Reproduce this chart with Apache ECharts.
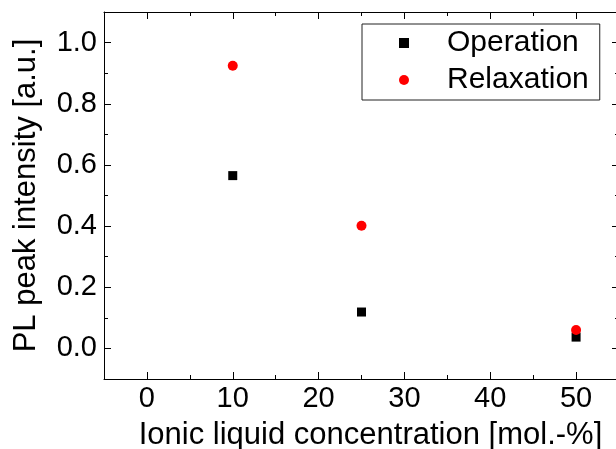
<!DOCTYPE html>
<html>
<head>
<meta charset="utf-8">
<script src="https://cdn.jsdelivr.net/npm/echarts@6/dist/echarts.min.js"></script>
<style>html,body{margin:0;padding:0;background:#fff}#c{width:616px;height:449px}</style>
</head>
<body>
<div id="c"></div>
<script>
// Data
const concentration = [10, 25, 50];
const operation = [0.565, 0.119, 0.037];
const relaxation = [0.924, 0.401, 0.060];
const xMajorTicks = [0, 10, 20, 30, 40, 50];
const xMinorTicks = [-5, 5, 15, 25, 35, 45, 55];
const yMajorTicks = [0, 0.2, 0.4, 0.6, 0.8, 1.0];
const yMinorTicks = [-0.1, 0.1, 0.3, 0.5, 0.7, 0.9, 1.1];
const xTitle = 'Ionic liquid concentration [mol.-%]';
const yTitle = 'PL peak intensity [a.u.]';

const FONT = "'Liberation Sans', Arial, sans-serif";
const X_MIN = -5, X_MAX = 55, Y_MIN = -0.1, Y_MAX = 1.1;
const GRID = { left: 104, top: 12, width: 515, height: 367, containLabel: false, outerBoundsMode: 'none' };

function xAxis(grid, pos, ticks, len, showLine, opts) {
  return Object.assign({
    type: 'value', position: pos, min: X_MIN, max: X_MAX, gridIndex: grid, offset: 0,
    axisLine: { show: showLine, onZero: false, lineStyle: { color: '#000', width: 1 } },
    axisTick: { show: true, inside: true, length: len, customValues: ticks, lineStyle: { color: '#000', width: 1 } },
    axisLabel: { show: false },
    splitLine: { show: false }
  }, opts || {});
}
function yAxis(grid, pos, ticks, len, showLine, opts) {
  return Object.assign({
    type: 'value', position: pos, min: Y_MIN, max: Y_MAX, gridIndex: grid, offset: 0,
    axisLine: { show: showLine, onZero: false, lineStyle: { color: '#000', width: 1 } },
    axisTick: { show: true, inside: true, length: len, customValues: ticks, lineStyle: { color: '#000', width: 1 } },
    axisLabel: { show: false },
    splitLine: { show: false }
  }, opts || {});
}

const chart = echarts.init(document.getElementById('c'), null, { renderer: 'canvas' });
chart.setOption({
  backgroundColor: '#fff',
  animation: false,
  textStyle: { fontFamily: FONT },
  grid: [Object.assign({}, GRID), Object.assign({}, GRID)],
  legend: {
    orient: 'vertical', left: 362, top: 24,
    padding: [4, 11, 5, 37], itemGap: 7, itemWidth: 10, itemHeight: 10,
    borderColor: '#222', borderWidth: 1, backgroundColor: '#fff',
    textStyle: { fontSize: 30, fontFamily: FONT, color: '#000', lineHeight: 30, padding: [0, 0, 0, 33] },
    data: ['Operation', 'Relaxation']
  },
  xAxis: [
    xAxis(0, 'bottom', xMajorTicks, 7, true, {
      name: xTitle, nameLocation: 'middle', nameGap: 41,
      nameTextStyle: { fontSize: 31, fontFamily: FONT, color: '#000', padding: [0, 0, 0, 18] },
      axisLabel: { show: true, customValues: xMajorTicks, fontSize: 29, fontFamily: FONT, color: '#000', margin: 5 }
    }),
    xAxis(0, 'top', xMajorTicks, 7, true),
    xAxis(1, 'bottom', xMinorTicks, 4, false),
    xAxis(1, 'top', xMinorTicks, 4, false)
  ],
  yAxis: [
    yAxis(0, 'left', yMajorTicks, 7, true, {
      name: yTitle, nameLocation: 'middle', nameGap: 62,
      nameTextStyle: { fontSize: 31, fontFamily: FONT, color: '#000' },
      axisLabel: { show: true, customValues: yMajorTicks, fontSize: 29, fontFamily: FONT, color: '#000', margin: 7,
        formatter: v => Number(v).toFixed(1) }
    }),
    yAxis(0, 'right', yMajorTicks, 7, true),
    yAxis(1, 'left', yMinorTicks, 4, false),
    yAxis(1, 'right', yMinorTicks, 4, false)
  ],
  series: [
    {
      name: 'Operation', type: 'scatter', xAxisIndex: 0, yAxisIndex: 0,
      symbol: 'rect', symbolSize: 9,
      itemStyle: { color: '#000', opacity: 1 },
      data: concentration.map((c, i) => [c, operation[i]])
    },
    {
      name: 'Relaxation', type: 'scatter', xAxisIndex: 0, yAxisIndex: 0,
      symbol: 'circle', symbolSize: 10,
      itemStyle: { color: '#ff0000', opacity: 1 },
      data: concentration.map((c, i) => [c, relaxation[i]])
    }
  ]
});
</script>
</body>
</html>
